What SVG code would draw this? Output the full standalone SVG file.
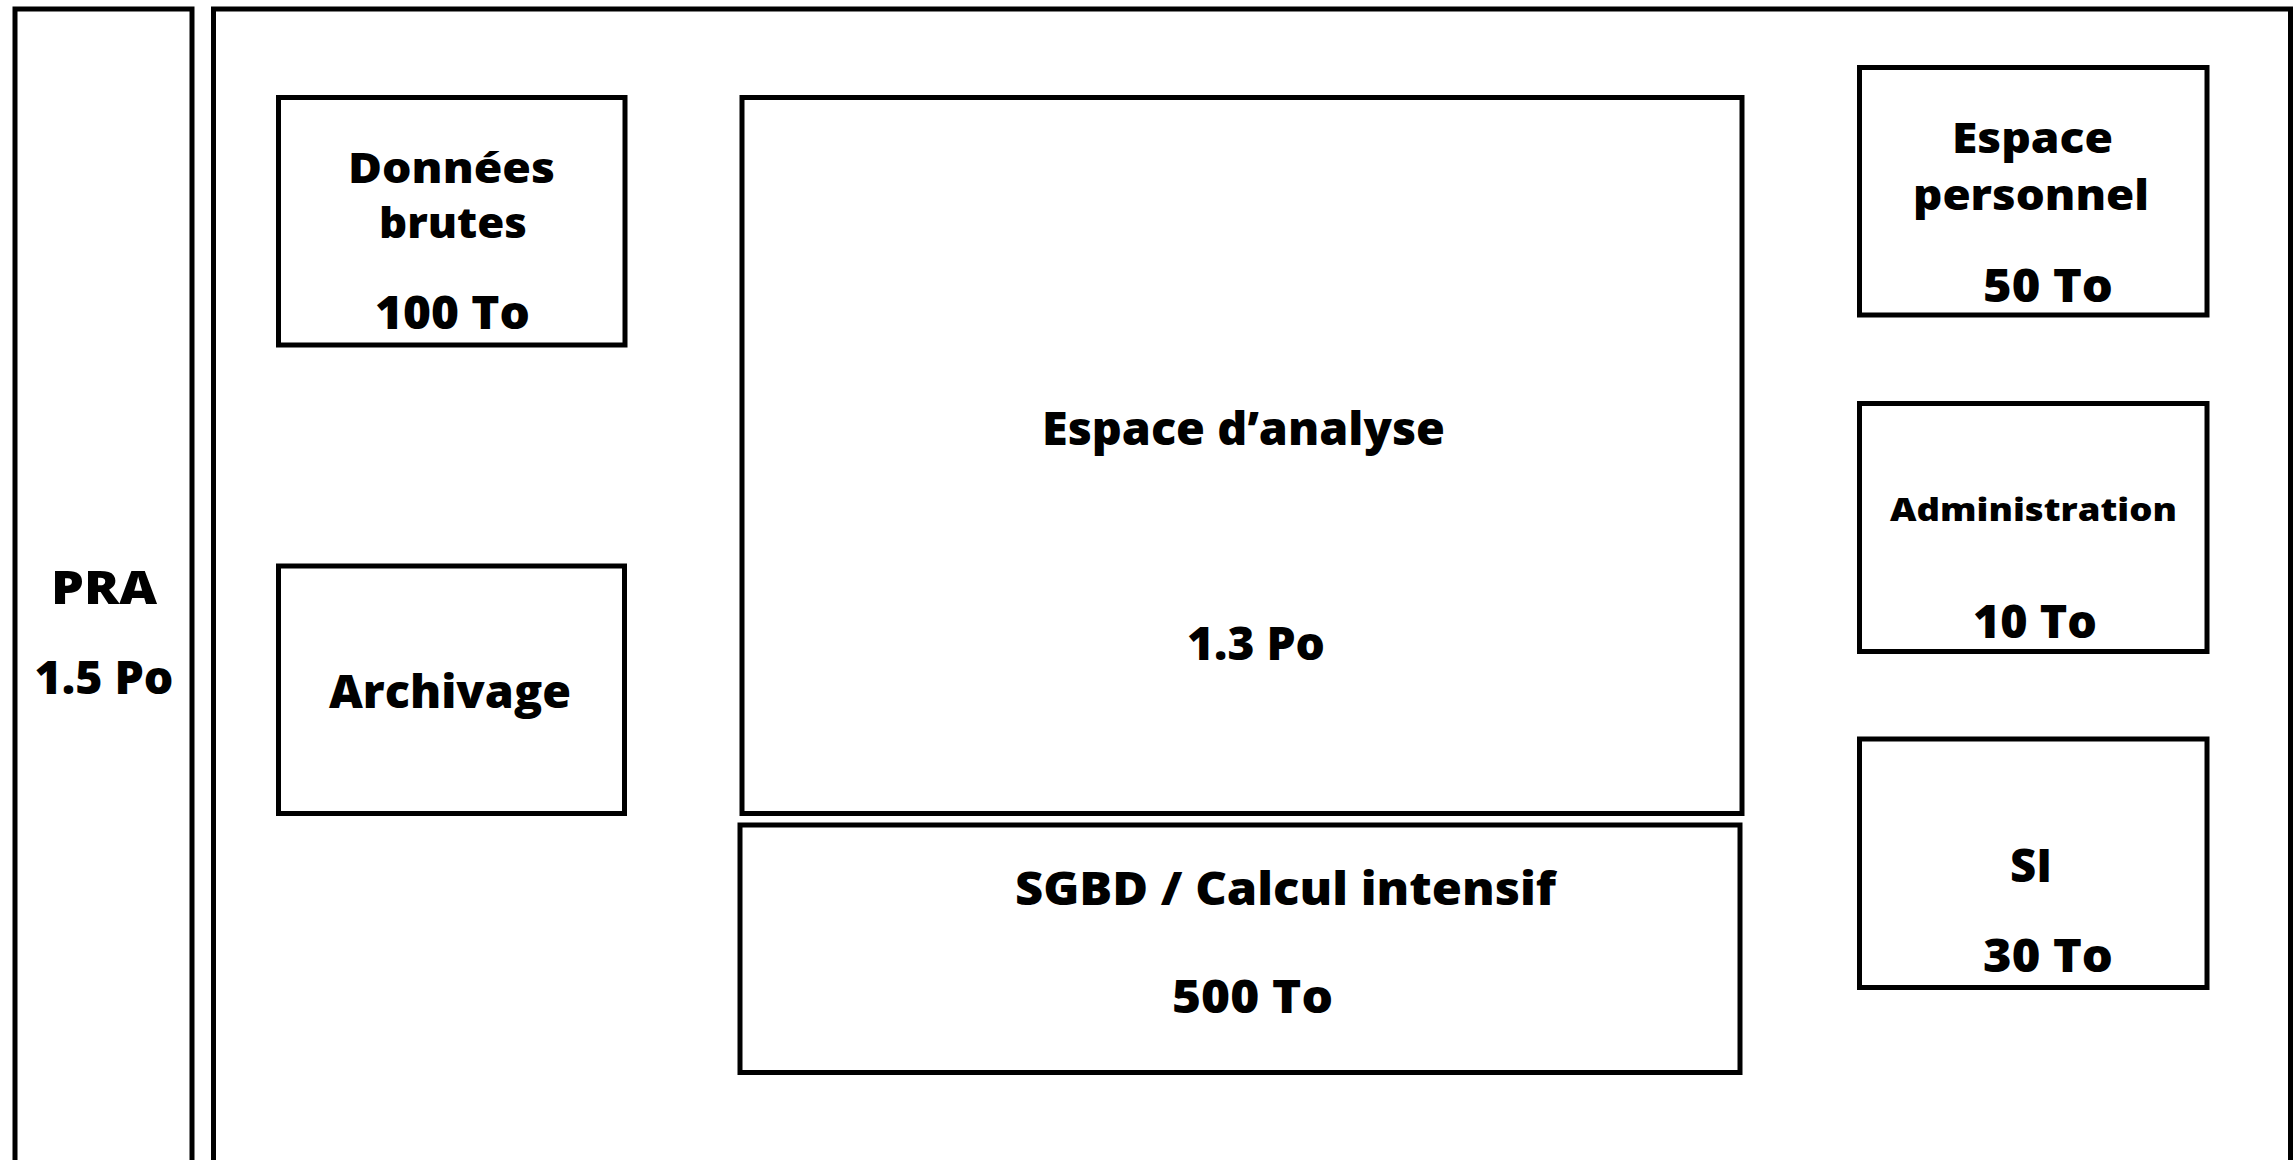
<svg xmlns="http://www.w3.org/2000/svg" width="2294" height="1160" viewBox="0 0 2294 1160">
<style>
rect.box{fill:none;stroke:#000;stroke-width:5}
text{font-family:"Open Sans","Lato","DejaVu Sans",sans-serif;font-weight:800;fill:#000;text-anchor:middle;font-size:46px}
text.tight{font-size:43px}
text.small{font-size:31px}
</style>
<rect x="0" y="0" width="2294" height="1160" fill="#fff"/>
<g id="pra">
<rect class="box" x="15" y="9" width="177" height="1200"/>
<text x="104" y="604" textLength="106" lengthAdjust="spacingAndGlyphs">PRA</text>
<text x="104" y="694" textLength="139" lengthAdjust="spacingAndGlyphs">1.5 Po</text>
</g>
<g id="datacenter">
<rect class="box" x="213.5" y="9" width="2077" height="1200"/>
</g>
<g id="donnees-brutes">
<rect class="box" x="278.5" y="97.5" width="346.5" height="247.5"/>
<text class="tight" x="451.5" y="183" textLength="207" lengthAdjust="spacingAndGlyphs">Données</text>
<text class="tight" x="453" y="238" textLength="148" lengthAdjust="spacingAndGlyphs">brutes</text>
<text x="452.5" y="329" textLength="155" lengthAdjust="spacingAndGlyphs">100 To</text>
</g>
<g id="archivage">
<rect class="box" x="278.5" y="566" width="346" height="247.5"/>
<text x="450" y="708" textLength="242" lengthAdjust="spacingAndGlyphs">Archivage</text>
</g>
<g id="espace-analyse">
<rect class="box" x="742" y="97.5" width="1000" height="716"/>
<text x="1243.5" y="445" textLength="403" lengthAdjust="spacingAndGlyphs">Espace d’analyse</text>
<text x="1256" y="660" textLength="138" lengthAdjust="spacingAndGlyphs">1.3 Po</text>
</g>
<g id="sgbd">
<rect class="box" x="740" y="825" width="1000" height="247.5"/>
<text x="1285.5" y="905" textLength="541" lengthAdjust="spacingAndGlyphs">SGBD / Calcul intensif</text>
<text x="1252.5" y="1013" textLength="161" lengthAdjust="spacingAndGlyphs">500 To</text>
</g>
<g id="espace-personnel">
<rect class="box" x="1859.5" y="67.5" width="347.5" height="247.5"/>
<text class="tight" x="2032.5" y="153" textLength="161" lengthAdjust="spacingAndGlyphs">Espace</text>
<text class="tight" x="2031" y="210" textLength="236" lengthAdjust="spacingAndGlyphs">personnel</text>
<text x="2048" y="302" textLength="130" lengthAdjust="spacingAndGlyphs">50 To</text>
</g>
<g id="administration">
<rect class="box" x="1859.5" y="403.5" width="347.5" height="248"/>
<text class="small" x="2033.5" y="521" textLength="287" lengthAdjust="spacingAndGlyphs">Administration</text>
<text x="2035" y="638" textLength="124" lengthAdjust="spacingAndGlyphs">10 To</text>
</g>
<g id="si">
<rect class="box" x="1859.5" y="739" width="347.5" height="248.5"/>
<text x="2031" y="882" textLength="42" lengthAdjust="spacingAndGlyphs">SI</text>
<text x="2048" y="972" textLength="130" lengthAdjust="spacingAndGlyphs">30 To</text>
</g>
<g id="connectors"></g>
</svg>
